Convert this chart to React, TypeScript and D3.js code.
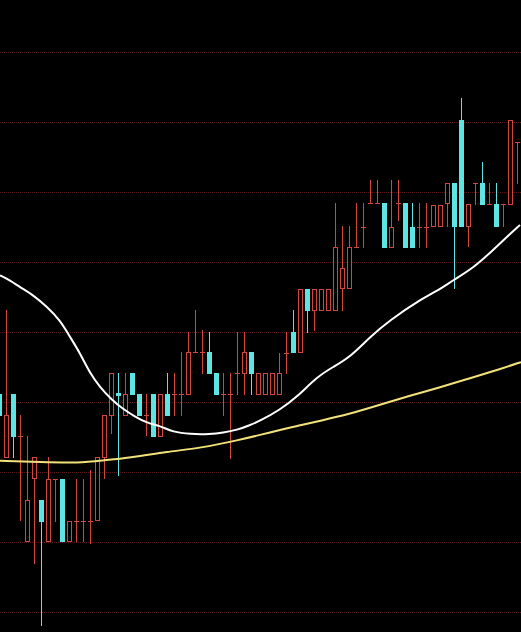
import React from 'react';
import * as d3 from 'd3';

const W = 521;
const H = 632;

// Candle data (oldest on the left)
const opens = [8.11, 7.21, 8.11, 7.51, 6.01, 6.91, 6.6, 6.01, 6.9, 6.9, 6.01, 6.3, 6.3, 6.3, 6.31, 7.21, 7.81, 8.13, 7.81, 8.41, 8.11, 7.81, 8.11, 7.51, 8.11, 8.11, 8.11, 8.11, 8.71, 8.71, 8.71, 8.41, 8.11, 8.11, 8.41, 8.41, 8.71, 8.11, 8.11, 8.11, 8.11, 8.7, 9.0, 8.71, 9.61, 9.31, 9.31, 9.31, 9.31, 9.63, 9.63, 10.21, 10.5, 10.84, 10.84, 10.84, 10.21, 10.84, 10.84, 10.5, 10.5, 10.5, 10.51, 10.51, 10.84, 11.13, 12.03, 10.51, 11.13, 11.13, 10.83, 10.83, 10.83, 10.83, 11.71];
const highs = [8.11, 9.31, 8.11, 7.81, 7.51, 7.21, 6.6, 7.21, 6.9, 6.9, 6.3, 6.9, 6.9, 7.03, 7.21, 7.81, 8.41, 8.41, 8.41, 8.41, 8.11, 8.11, 8.11, 8.11, 8.41, 8.41, 8.71, 9.0, 9.31, 9.03, 9.0, 8.41, 8.41, 8.41, 9.0, 9.0, 8.71, 8.41, 8.41, 8.41, 8.7, 9.0, 9.31, 9.61, 9.61, 9.61, 9.61, 9.61, 10.84, 10.51, 10.51, 10.84, 10.84, 11.17, 11.17, 10.84, 11.17, 11.17, 10.84, 10.84, 10.84, 10.84, 10.81, 10.81, 11.13, 11.13, 12.34, 10.83, 11.13, 11.43, 11.13, 11.13, 10.83, 12.03, 11.71];
const lows = [7.81, 7.21, 7.21, 6.31, 6.01, 5.7, 4.81, 6.01, 6.3, 6.01, 6.01, 6.01, 6.01, 5.99, 6.31, 6.91, 7.56, 6.96, 7.81, 8.11, 7.81, 7.53, 7.51, 7.51, 7.81, 7.81, 7.81, 8.11, 8.71, 8.41, 8.41, 8.11, 7.81, 7.2, 8.11, 8.11, 8.11, 8.11, 8.11, 8.11, 8.11, 8.41, 8.71, 8.71, 9.0, 9.03, 9.31, 9.31, 9.31, 9.31, 9.63, 10.21, 10.21, 10.84, 10.84, 10.21, 10.21, 10.6, 10.21, 10.21, 10.21, 10.21, 10.51, 10.51, 10.51, 9.63, 10.51, 10.23, 10.83, 10.83, 10.83, 10.51, 10.51, 10.83, 11.13];
const closes = [7.81, 7.81, 7.51, 7.51, 6.6, 7.21, 6.3, 6.9, 6.9, 6.01, 6.3, 6.3, 6.3, 6.3, 7.21, 7.81, 8.41, 8.1, 8.11, 8.11, 7.81, 7.81, 7.51, 8.11, 7.81, 8.11, 8.11, 8.71, 8.71, 8.71, 8.41, 8.11, 8.11, 8.11, 8.41, 8.71, 8.41, 8.41, 8.41, 8.41, 8.41, 8.7, 8.71, 9.61, 9.31, 9.61, 9.61, 9.61, 10.21, 9.91, 10.21, 10.21, 10.5, 10.84, 10.84, 10.21, 10.5, 10.84, 10.21, 10.21, 10.5, 10.5, 10.81, 10.81, 11.13, 10.51, 10.51, 10.83, 11.13, 10.83, 10.83, 10.51, 10.83, 12.03, 11.71];

// Horizontal grid levels
const gridPrices = [5, 6, 7, 8, 9, 10, 11, 12, 13];

// Moving averages (candle index, value)
const maWhiteIdx = [0.14, 1.57, 3.0, 4.86, 6.86, 8.71, 10.14, 11.57, 13.0, 14.43, 16.14, 17.57, 19.43, 21.14, 23.0, 24.86, 27.29, 30.14, 32.0, 34.0, 35.86, 37.29, 40.14, 42.57, 45.43, 47.71, 50.14, 53.0, 55.86, 60.14, 63.0, 64.86, 67.71, 70.57, 72.57, 74.43];
const maWhiteVal = [9.81, 9.74, 9.64, 9.53, 9.36, 9.17, 8.93, 8.7, 8.41, 8.21, 8.03, 7.91, 7.79, 7.7, 7.66, 7.57, 7.54, 7.54, 7.56, 7.6, 7.67, 7.73, 7.89, 8.07, 8.36, 8.5, 8.64, 8.93, 9.17, 9.46, 9.61, 9.74, 9.91, 10.17, 10.36, 10.53];
const maYellowIdx = [0.14, 5.86, 11.57, 14.43, 19.14, 24.0, 28.71, 34.43, 37.29, 40.14, 43.0, 45.86, 50.14, 54.43, 58.71, 63.0, 67.29, 71.57, 74.57];
const maYellowVal = [7.16, 7.14, 7.13, 7.16, 7.21, 7.29, 7.34, 7.46, 7.53, 7.6, 7.67, 7.73, 7.83, 7.96, 8.09, 8.21, 8.34, 8.47, 8.57];

const UP = '#d0473f';
const DOWN = '#5fe4e4';

export default function App() {
  const n = opens.length;
  const x = d3.scaleLinear().domain([0, n - 1]).range([-1, 517]);
  const y = d3.scaleLinear().domain([5, 13]).range([612, 52]);
  const py = (v: number) => Math.round(y(v)) + 0.5;

  const line = d3
    .line<[number, number]>()
    .x((d) => x(d[0]))
    .y((d) => y(d[1]))
    .curve(d3.curveBasis);

  const white = maWhiteIdx.map((v, i) => [v, maWhiteVal[i]] as [number, number]);
  const yellow = maYellowIdx.map((v, i) => [v, maYellowVal[i]] as [number, number]);

  const candles = opens.map((o, i) => {
    const c = closes[i];
    const h = highs[i];
    const l = lows[i];
    const cx = Math.round(x(i));
    const wx = cx + 0.5;
    const up = c >= o;
    const color = up ? UP : DOWN;
    const yTop = Math.round(y(Math.max(o, c)));
    const yBot = Math.round(y(Math.min(o, c)));
    const yH = Math.round(y(h));
    const yL = Math.round(y(l));
    const els: React.ReactNode[] = [];
    if (yBot - yTop < 1) {
      els.push(<line key="v" x1={wx} x2={wx} y1={yH} y2={yL + 1} stroke={color} strokeWidth={1} />);
      els.push(<line key="h" x1={cx - 2} x2={cx + 3} y1={yTop + 0.5} y2={yTop + 0.5} stroke={color} strokeWidth={1} />);
    } else if (up) {
      if (yH < yTop) els.push(<line key="u" x1={wx} x2={wx} y1={yH} y2={yTop} stroke={color} strokeWidth={1} />);
      if (yL > yBot) els.push(<line key="d" x1={wx} x2={wx} y1={yBot + 1} y2={yL + 1} stroke={color} strokeWidth={1} />);
      els.push(
        <rect key="b" x={cx - 1.5} y={yTop + 0.5} width={4} height={yBot - yTop} fill="#000" stroke={color} strokeWidth={1} />
      );
    } else {
      els.push(<line key="w" x1={wx} x2={wx} y1={yH} y2={yL + 1} stroke={color} strokeWidth={1} />);
      els.push(<rect key="b" x={cx - 2} y={yTop} width={5} height={yBot - yTop + 1} fill={color} />);
    }
    return <g key={i}>{els}</g>;
  });

  return (
    <svg
      width={W}
      height={H}
      style={{ position: 'fixed', left: 0, top: 0, display: 'block', background: '#000' }}
    >
      <rect x={0} y={0} width={W} height={H} fill="#000" />
      <g>
        {gridPrices.map((p) => (
          <line key={p} x1={0} x2={W} y1={py(p)} y2={py(p)} stroke="#561818" strokeWidth={1} strokeDasharray="1 1" />
        ))}
      </g>
      <g>{candles}</g>
      <path d={line(yellow) || ''} fill="none" stroke="#f2e27a" strokeWidth={2} />
      <path d={line(white) || ''} fill="none" stroke="#ffffff" strokeWidth={2} />
    </svg>
  );
}
